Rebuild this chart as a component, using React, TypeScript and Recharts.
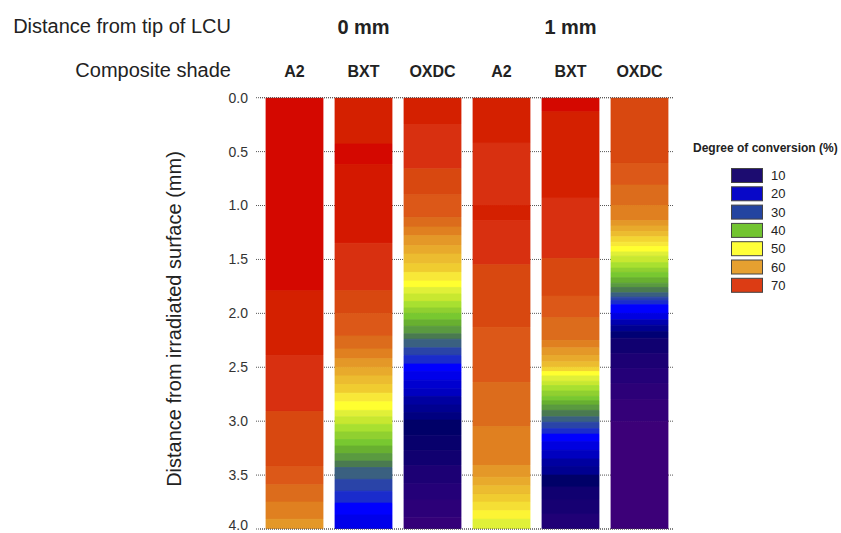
import React from 'react';
import { BarChart, Bar, XAxis, YAxis, CartesianGrid, Cell, ReferenceLine } from 'recharts';

// ---- Data (depth in mm, degree of conversion in %) ----
const distances = ['0 mm', '1 mm'];
const shades = ['A2', 'BXT', 'OXDC', 'A2', 'BXT', 'OXDC'];
const columnIds = ['0-A2', '0-BXT', '0-OXDC', '1-A2', '1-BXT', '1-OXDC'];
const depthTicks = [0, 0.5, 1, 1.5, 2, 2.5, 3, 3.5, 4];

// segment lower bounds (mm) and DC (%) for each column
const a2_0_ends = [1.79, 2.39, 2.91, 3.42, 3.59, 3.75, 3.91, 4.0];
const a2_0_dc = [80, 77, 74, 70, 67, 65, 63, 61];

const bxt_0_ends = [0.43, 0.62, 1.35, 1.79, 2.0, 2.21, 2.33, 2.42, 2.5, 2.58, 2.66, 2.74, 2.82, 2.9, 2.96, 3.03, 3.1, 3.17, 3.23, 3.3, 3.37, 3.43, 3.54, 3.65, 3.76, 3.87, 4.0];
const bxt_0_dc = [77, 80, 78, 74, 70, 67, 65, 63, 61, 58, 57, 55, 52, 50, 48, 46, 44, 42, 40, 39, 37, 35, 33, 30, 27, 23, 21];

const oxdc_0_ends = [0.25, 0.66, 0.9, 1.11, 1.2, 1.28, 1.37, 1.45, 1.54, 1.62, 1.7, 1.76, 1.82, 1.89, 1.95, 2.0, 2.06, 2.12, 2.19, 2.24, 2.32, 2.39, 2.47, 2.54, 2.62, 2.7, 2.77, 2.85, 2.92, 2.99, 3.13, 3.27, 3.41, 3.58, 3.73, 3.89, 4.0];
const oxdc_0_dc = [77, 74, 70, 67, 65, 63, 61, 58, 57, 55, 52, 50, 48, 46, 44, 42, 40, 39, 37, 35, 33, 30, 27, 23, 21, 19, 18, 16, 15, 14, 12, 11, 10, 8, 6, 4, 2];

const a2_1_ends = [0.42, 1.0, 1.14, 1.55, 2.13, 2.64, 3.05, 3.41, 3.52, 3.6, 3.68, 3.75, 3.83, 3.91, 4.0];
const a2_1_dc = [77, 74, 77, 74, 70, 67, 65, 63, 61, 58, 57, 55, 53, 51, 48];

const bxt_1_ends = [0.13, 0.93, 1.49, 1.84, 2.04, 2.25, 2.32, 2.39, 2.45, 2.5, 2.54, 2.58, 2.63, 2.67, 2.72, 2.77, 2.81, 2.85, 2.9, 2.96, 3.01, 3.07, 3.12, 3.19, 3.27, 3.35, 3.42, 3.5, 3.61, 3.73, 3.86, 4.0];
const bxt_1_dc = [80, 77, 74, 70, 67, 65, 63, 61, 58, 57, 54, 50, 48, 46, 44, 42, 40, 39, 37, 35, 33, 30, 27, 23, 20, 18, 16, 15, 12, 10, 9, 7];

const oxdc_1_ends = [0.61, 0.81, 1.0, 1.14, 1.19, 1.24, 1.29, 1.34, 1.38, 1.43, 1.47, 1.53, 1.58, 1.62, 1.67, 1.72, 1.76, 1.81, 1.85, 1.88, 1.92, 2.0, 2.06, 2.11, 2.17, 2.23, 2.37, 2.51, 2.65, 2.8, 3.0, 4.0];
const oxdc_1_dc = [70, 67, 65, 63, 61, 58, 57, 54, 52, 50, 48, 46, 44, 42, 40, 39, 37, 35, 33, 30, 27, 23, 20, 17, 15, 13, 10, 8, 6, 4, 2, 1];

const legendValues = [10, 20, 30, 40, 50, 60, 70];
const legendColors = ['#1c0c70', '#0808c8', '#2444a0', '#72c430', '#ffff38', '#e6a030', '#dc3c14'];

// ---- colour scale (DC % -> colour) ----
const colorStops: [number, string][] = [
  [1, '#3c0078'], [2, '#340078'], [4, '#2c0078'], [6, '#240078'], [8, '#1c0074'], [10, '#100070'],
  [12, '#000068'], [14, '#000080'], [15, '#000090'], [16, '#0000a0'], [18, '#0000c0'], [20, '#0000e0'],
  [23, '#0000ff'], [27, '#1a2ccc'], [30, '#2a44a8'], [33, '#3a6080'], [35, '#4a7a50'], [37, '#5a9a40'],
  [39, '#68b030'], [40, '#78c830'], [42, '#90d030'], [44, '#a8e030'], [46, '#c8e830'], [48, '#e0f038'],
  [50, '#ffff30'], [52, '#f8e838'], [55, '#f0cc30'], [57, '#ecbc30'], [58, '#e8aa2c'], [61, '#e49828'],
  [63, '#e08020'], [65, '#dc6c1c'], [67, '#dc5818'], [70, '#d84810'], [74, '#d83010'], [77, '#d42000'],
  [80, '#d40800'],
];

const hex = (c: string) => [1, 3, 5].map((i) => parseInt(c.slice(i, i + 2), 16));
const colorScale = (v: number): string => {
  if (v <= colorStops[0][0]) return colorStops[0][1];
  for (let i = 1; i < colorStops.length; i++) {
    const [v1, c1] = colorStops[i];
    if (v <= v1) {
      const [v0, c0] = colorStops[i - 1];
      const t = (v - v0) / (v1 - v0);
      const a = hex(c0);
      const b = hex(c1);
      const m = a.map((x, k) => Math.round(x + (b[k] - x) * t));
      return `rgb(${m[0]},${m[1]},${m[2]})`;
    }
  }
  return colorStops[colorStops.length - 1][1];
};

const columnEnds = [a2_0_ends, bxt_0_ends, oxdc_0_ends, a2_1_ends, bxt_1_ends, oxdc_1_ends];
const columnDc = [a2_0_dc, bxt_0_dc, oxdc_0_dc, a2_1_dc, bxt_1_dc, oxdc_1_dc];
const maxSegments = Math.max(...columnEnds.map((e) => e.length));

const chartData = columnIds.map((id, c) => {
  const row: Record<string, number | string> = { id, shade: shades[c] };
  const ends = columnEnds[c];
  for (let i = 0; i < maxSegments; i++) {
    const start = i === 0 ? 0 : ends[i - 1];
    row[`t${i}`] = i < ends.length ? +(ends[i] - start).toFixed(4) : 0;
  }
  return row;
});

const segmentKeys = Array.from({ length: maxSegments }, (_, i) => `t${i}`);

const FONT = '"Liberation Sans", Arial, Helvetica, sans-serif';

const ShadeTick = (props: any) => {
  const { x, y, index } = props;
  return (
    <text x={x} y={y} textAnchor="middle" fontSize={16} fontWeight="bold" fill="#222" fontFamily={FONT}>
      {shades[index]}
    </text>
  );
};

export default function App() {
  return (
    <div style={{ position: 'absolute', left: 0, top: 0, width: 841, height: 533, background: '#fff', fontFamily: FONT }}>
      <BarChart
        width={841}
        height={533}
        data={chartData}
        margin={{ top: 67.7, right: 167, bottom: 4, left: 200 }}
        barSize={57}
      >
        <CartesianGrid vertical={false} stroke="#555" strokeDasharray="1 1" />
        <XAxis
          dataKey="id"
          orientation="top"
          type="category"
          height={30}
          axisLine={false}
          tickLine={false}
          tickSize={0}
          tickMargin={21}
          tick={<ShadeTick />}
          interval={0}
        />
        <YAxis
          type="number"
          domain={[0, 4]}
          allowDataOverflow
          reversed
          ticks={depthTicks}
          tickFormatter={(v: number) => v.toFixed(1)}
          width={60}
          axisLine={false}
          tickSize={4}
          tickMargin={8}
          tickLine={{ stroke: '#555', strokeDasharray: '1 1' }}
          tick={{ fontSize: 14, fill: '#333', fontFamily: FONT }}
        />
        {segmentKeys.map((k, i) => (
          <Bar key={k} dataKey={k} stackId="s" isAnimationActive={false}>
            {chartData.map((_, c) => {
              const has = i < columnDc[c].length;
              const col = has ? colorScale(columnDc[c][i]) : 'none';
              return <Cell key={c} fill={col} stroke={col} strokeWidth={has ? 0.8 : 0} />;
            })}
          </Bar>
        ))}
        <ReferenceLine y={0} stroke="#555" strokeDasharray="1 1" />
        <ReferenceLine y={4} stroke="#555" strokeDasharray="1 1" />
      </BarChart>
      <svg
        width={841}
        height={533}
        style={{ position: 'absolute', left: 0, top: 0, pointerEvents: 'none' }}
        fontFamily={FONT}
      >
        <text x={231} y={33} textAnchor="end" fontSize={20} fill="#222">Distance from tip of LCU</text>
        <text x={231} y={77} textAnchor="end" fontSize={20} fill="#222">Composite shade</text>
        <text x={363.5} y={34} textAnchor="middle" fontSize={20} fontWeight="bold" fill="#222">{distances[0]}</text>
        <text x={570.5} y={34} textAnchor="middle" fontSize={20} fontWeight="bold" fill="#222">{distances[1]}</text>
        <text
          x={0}
          y={0}
          transform="translate(181,319) rotate(-90)"
          textAnchor="middle"
          fontSize={20}
          fill="#222"
        >
          Distance from irradiated surface (mm)
        </text>
        <text x={693} y={151.5} fontSize={12} fontWeight="bold" fill="#222">Degree of conversion (%)</text>
        {legendValues.map((v, i) => (
          <g key={v}>
            <rect x={731.5} y={168.5 + i * 18.3} width={31} height={14} fill={legendColors[i]} stroke="#444" strokeWidth={1} />
            <text x={771} y={180 + i * 18.3} fontSize={13} fill="#222">{v}</text>
          </g>
        ))}
      </svg>
    </div>
  );
}
